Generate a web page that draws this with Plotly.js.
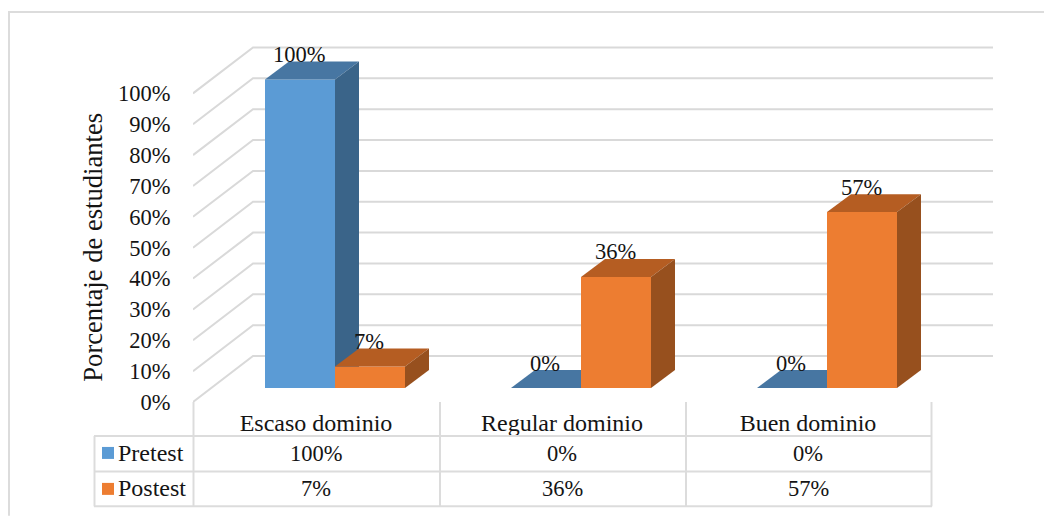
<!DOCTYPE html>
<html lang="es">
<head>
<meta charset="utf-8">
<title>Porcentaje de estudiantes</title>
<script src="https://cdn.plot.ly/plotly-3.0.1.min.js"></script>
<style>html,body{margin:0;padding:0;background:#fff}#chart{width:1044px;height:516px}</style>
</head>
<body>
<div id="chart"></div>
<script>
// Values per performance level, in percent
const categories = ['Escaso dominio', 'Regular dominio', 'Buen dominio'];
const pretest = [100, 0, 0];
const postest = [7, 36, 57];
const yTicks = [0, 10, 20, 30, 40, 50, 60, 70, 80, 90, 100];

// Canvas and plot box, in pixels
const W = 1044, H = 516;
const left = 193, right = 1000, bottom = 402;
const pxPerCat = 246, pxPerPct = 3.09;
const xMin = -0.5, xMax = xMin + (right - left) / pxPerCat;
const yMax = 116;
const top_ = bottom - yMax * pxPerPct;

// Oblique projection: depth expressed in axis units
const toX = px => px / pxPerCat, toY = px => px / pxPerPct;
const wallDx = toX(60), wallDy = toY(46);      // from the front edge to the back wall
const floorDx = toX(19), floorDy = toY(14);    // from the front edge to the front of a bar
const barDx = toX(24), barDy = toY(18);        // depth of a bar
const barW = toX(70);

const px2x = px => (px - left) / (right - left);
const px2y = py => 1 - (py - top_) / (bottom - top_);

const serif = '"Liberation Serif", "Times New Roman", serif';
const gridColor = '#d9d9d9', tableColor = '#dcdcdc', ink = '#141414';

// Front face as a bar, top and side as filled polygons
function prism(name, values, side, colors, axes) {
  const xs = values.map((_, i) => i + floorDx);
  const x0 = xs.map(x => side < 0 ? x - barW : x);
  const traces = [{
    type: 'bar', name, x: xs, y: values, base: values.map(() => floorDy),
    width: barW, offset: side < 0 ? -barW : 0,
    marker: {color: colors.front, line: {width: 0}},
    xaxis: axes[0], yaxis: axes[1], hoverinfo: 'skip'
  }];
  values.forEach((v, i) => {
    const l = x0[i], r = l + barW, lo = floorDy, hi = floorDy + v;
    traces.push({
      type: 'scatter', mode: 'lines', fill: 'toself', fillcolor: colors.top,
      line: {width: 0, color: colors.top}, hoverinfo: 'skip',
      x: [l, r, r + barDx, l + barDx, l], y: [hi, hi, hi + barDy, hi + barDy, hi],
      xaxis: axes[0], yaxis: axes[1]
    });
    traces.push({
      type: 'scatter', mode: 'lines', fill: 'toself', fillcolor: colors.side,
      line: {width: 0, color: colors.side}, hoverinfo: 'skip',
      x: [r, r + barDx, r + barDx, r, r], y: [lo, lo + barDy, hi + barDy, hi, lo],
      xaxis: axes[0], yaxis: axes[1]
    });
  });
  return traces;
}

const preColors = {front: '#5b9bd5', top: '#4776a2', side: '#3a6489'};
const postColors = {front: '#ed7d31', top: '#b55d22', side: '#97501e'};

const data = [
  ...prism('Pretest', pretest, -1, preColors, ['x', 'y']),
  ...prism('Postest', postest, 1, postColors, ['x2', 'y2'])
];

// Side wall and back wall gridlines, below the bars
const shapes = yTicks.map(v => ({
  type: 'path', xref: 'x', yref: 'y', layer: 'below',
  path: `M ${xMin} ${v} L ${xMin + wallDx} ${v + wallDy} L ${xMin + (993 - left) / pxPerCat} ${v + wallDy}`,
  line: {color: gridColor, width: 2}
}));

// Data table under the plot
const tableLine = (x0, y0, x1, y1) => shapes.push({
  type: 'line', xref: 'paper', yref: 'paper',
  x0: px2x(x0), y0: px2y(y0), x1: px2x(x1), y1: px2y(y1),
  line: {color: tableColor, width: 2}
});
const colEdges = [193.5, 440, 686, 931.5];
const rowEdges = [436, 471.5, 506.5];
colEdges.forEach(x => tableLine(x, bottom, x, rowEdges[2]));
tableLine(94.5, rowEdges[0], 94.5, rowEdges[2]);
rowEdges.forEach(y => tableLine(94, y, 932, y));

// Outer frame: top and left edges
tableLine(8, 11.5, W, 11.5);
tableLine(9, 11, 9, H);

// Legend keys in the table
[[pretest, preColors, 447], [postest, postColors, 483]].forEach(([, c, y]) => shapes.push({
  type: 'rect', xref: 'paper', yref: 'paper',
  x0: px2x(102), x1: px2x(114), y0: px2y(y), y1: px2y(y + 12),
  fillcolor: c.front, line: {width: 0}
}));

const annotations = [];
const paperText = (text, px, py, size, anchor, angle) => annotations.push({
  text, showarrow: false, xref: 'paper', yref: 'paper',
  x: px2x(px), y: px2y(py), xanchor: anchor || 'center', yanchor: 'middle',
  textangle: angle || 0,
  font: {family: serif, size, color: ink}
});

paperText('Porcentaje de estudiantes', 93, 247.5, 26.6, 'center', -90);
paperText('Pretest', 116, 453.5, 24, 'left');
paperText('Postest', 116, 488.5, 24, 'left');
categories.forEach((_, i) => {
  const cx = left + pxPerCat * (i + 0.5);
  paperText(pretest[i] + '%', cx, 453.5, 22.5);
  paperText(postest[i] + '%', cx, 489, 22.5);
});

// Value labels above each bar
[[pretest, -1], [postest, 1]].forEach(([vals, side]) => vals.forEach((v, i) => annotations.push({
  text: v + '%', showarrow: false, xref: 'x', yref: 'y',
  x: i + floorDx + side * barW / 2, y: floorDy + v, yshift: 25, xshift: -1,
  xanchor: 'center', yanchor: 'middle',
  font: {family: serif, size: 22.5, color: ink}
})));

const layout = {
  width: W, height: H, autosize: false, showlegend: false,
  paper_bgcolor: '#fff', plot_bgcolor: 'rgba(0,0,0,0)',
  margin: {l: left, r: W - right, t: top_, b: H - bottom, pad: 0},
  barmode: 'overlay',
  xaxis: {
    range: [xMin, xMax], tickmode: 'array', tickvals: [0, 1, 2], ticktext: categories,
    showgrid: false, zeroline: false, showline: false,
    ticks: '', ticklabelstandoff: 4,
    tickfont: {family: serif, size: 24, color: ink}
  },
  yaxis: {
    range: [0, yMax], tickmode: 'array', tickvals: yTicks, ticktext: yTicks.map(v => v + '%'),
    showgrid: false, zeroline: false, showline: false,
    ticks: 'outside', ticklen: 17, tickcolor: 'rgba(0,0,0,0)',
    tickfont: {family: serif, size: 22.5, color: ink}
  },
  xaxis2: {overlaying: 'x', range: [xMin, xMax], visible: false},
  yaxis2: {overlaying: 'y', range: [0, yMax], visible: false},
  shapes, annotations
};

Plotly.newPlot('chart', data, layout, {displayModeBar: false, staticPlot: true});
</script>
</body>
</html>
